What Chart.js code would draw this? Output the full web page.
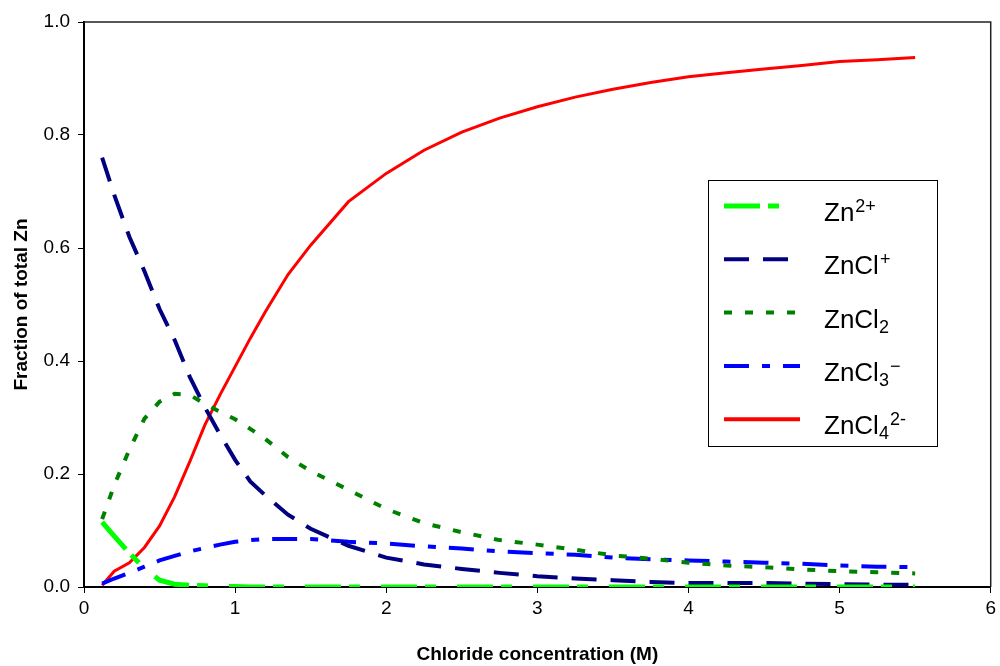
<!DOCTYPE html>
<html>
<head>
<meta charset="utf-8">
<title>Zn chloride speciation</title>
<script src="https://cdn.jsdelivr.net/npm/chart.js@4.4.1/dist/chart.umd.min.js"></script>
<style>
  body { margin: 0; background: #fff; }
  #wrap { width: 1000px; height: 666px; position: relative; }
</style>
</head>
<body>
<div id="wrap"><canvas id="grafico"></canvas></div>
<script>
// Concentração de cloreto (M) - eixo x
const concentracao = [0.12, 0.2, 0.3, 0.4, 0.5, 0.6, 0.7, 0.8, 0.9, 1.0, 1.1, 1.2, 1.35, 1.5, 1.75,
  2.0, 2.25, 2.5, 2.75, 3.0, 3.25, 3.5, 3.75, 4.0, 4.25, 4.5, 4.75, 5.0, 5.25, 5.5];

// Fração de Zn total por espécie
const zn2 = [0.115, 0.09, 0.06, 0.033, 0.012, 0.005, 0.003, 0.002, 0.001, 0.001, 0, 0, 0, 0, 0,
  0, 0, 0, 0, 0, 0, 0, 0, 0, 0, 0, 0, 0, 0, 0];
const zncl = [0.76, 0.694, 0.62, 0.559, 0.492, 0.437, 0.372, 0.318, 0.27, 0.225, 0.187, 0.162, 0.128, 0.103, 0.073,
  0.052, 0.04, 0.032, 0.025, 0.019, 0.015, 0.012, 0.009, 0.007, 0.007, 0.007, 0.006, 0.005, 0.004, 0.004];
const zncl2 = [0.12, 0.18, 0.243, 0.298, 0.328, 0.342, 0.34, 0.324, 0.31, 0.297, 0.28, 0.262, 0.23, 0.205, 0.172,
  0.138, 0.113, 0.097, 0.083, 0.075, 0.066, 0.056, 0.05, 0.043, 0.038, 0.035, 0.031, 0.028, 0.026, 0.024];
const zncl3 = [0.006, 0.015, 0.025, 0.036, 0.047, 0.055, 0.063, 0.069, 0.075, 0.08, 0.083, 0.085, 0.085, 0.085, 0.08,
  0.077, 0.072, 0.068, 0.063, 0.06, 0.057, 0.052, 0.049, 0.047, 0.045, 0.043, 0.041, 0.038, 0.036, 0.035];
const zncl4 = [0.003, 0.028, 0.043, 0.07, 0.108, 0.16, 0.222, 0.287, 0.34, 0.39, 0.44, 0.487, 0.553, 0.605, 0.682,
  0.732, 0.773, 0.805, 0.83, 0.85, 0.867, 0.881, 0.893, 0.903, 0.91, 0.917, 0.923, 0.93, 0.933, 0.937];

const rotulos = ['Zn²⁺', 'ZnCl⁺', 'ZnCl₂', 'ZnCl₃⁻', 'ZnCl₄²⁻'];
const ticksY = [0, 0.2, 0.4, 0.6, 0.8, 1.0];
const ticksX = [0, 1, 2, 3, 4, 5, 6];

// Partes do texto da legenda (normal / sobrescrito / subscrito)
const legendaPartes = [
  [['Zn', ''], ['2+', 'sup']],
  [['ZnCl', ''], ['+', 'sup']],
  [['ZnCl', ''], ['2', 'sub']],
  [['ZnCl', ''], ['3', 'sub'], ['\u2212', 'sup']],
  [['ZnCl', ''], ['4', 'sub'], ['2-', 'sup']],
];

function pontos(ys) {
  return concentracao.map((x, i) => ({ x: x, y: ys[i] }));
}

const familia = 'Arial, "Liberation Sans", sans-serif';
Chart.defaults.font.family = familia;
Chart.defaults.color = '#000';

// Moldura superior e direita da área do gráfico
const moldura = {
  id: 'moldura',
  beforeDatasetsDraw(chart) {
    const { ctx, chartArea: a } = chart;
    ctx.save();
    ctx.strokeStyle = '#222';
    ctx.lineWidth = 1.5;
    ctx.beginPath();
    ctx.moveTo(a.left, a.top);
    ctx.lineTo(a.right, a.top);
    ctx.lineTo(a.right, a.bottom);
    ctx.stroke();
    ctx.restore();
  }
};

// Legenda desenhada à mão, com índices químicos
const legenda = {
  id: 'legenda',
  afterDraw(chart, args, opts) {
    const ctx = chart.ctx;
    ctx.save();
    ctx.fillStyle = '#fff';
    ctx.fillRect(opts.left, opts.top, opts.width, opts.height);
    ctx.strokeStyle = '#000';
    ctx.lineWidth = 1;
    ctx.strokeRect(opts.left + 0.5, opts.top + 0.5, opts.width, opts.height);

    chart.data.datasets.forEach((ds, i) => {
      const y = opts.top + opts.firstRow + i * opts.rowGap;
      ctx.strokeStyle = ds.borderColor;
      ctx.lineWidth = ds.legendWidth;
      ctx.setLineDash(ds.borderDash || []);
      ctx.beginPath();
      ctx.moveTo(opts.left + 16, y);
      ctx.lineTo(opts.left + 92, y);
      ctx.stroke();
      ctx.setLineDash([]);

      let x = opts.left + 116;
      const base = y + 15;
      ctx.fillStyle = '#000';
      ctx.textBaseline = 'alphabetic';
      legendaPartes[i].forEach(([txt, tipo]) => {
        if (tipo === 'sup') {
          ctx.font = '18px ' + familia;
          ctx.fillText(txt, x + 1, base - 9);
        } else if (tipo === 'sub') {
          ctx.font = '18px ' + familia;
          ctx.fillText(txt, x, base + 5);
        } else {
          ctx.font = '26px ' + familia;
          ctx.fillText(txt, x, base);
        }
        x += ctx.measureText(txt).width + (tipo === 'sup' ? 1 : 0);
      });
    });
    ctx.restore();
  }
};

const ctx = document.getElementById('grafico').getContext('2d');
new Chart(ctx, {
  type: 'line',
  data: {
    datasets: [
      { label: rotulos[0], data: pontos(zn2), borderColor: '#00FF00', borderWidth: 5, legendWidth: 5, borderDash: [36, 8, 11, 21] },
      { label: rotulos[1], data: pontos(zncl), borderColor: '#000080', borderWidth: 4, legendWidth: 4, borderDash: [25, 14] },
      { label: rotulos[2], data: pontos(zncl2), borderColor: '#008000', borderWidth: 4, legendWidth: 4, borderDash: [8, 13] },
      { label: rotulos[3], data: pontos(zncl3), borderColor: '#0000FF', borderWidth: 4, legendWidth: 4, borderDash: [25, 13, 8, 13] },
      { label: rotulos[4], data: pontos(zncl4), borderColor: '#FF0000', borderWidth: 3, legendWidth: 4 },
    ],
  },
  options: {
    responsive: true,
    maintainAspectRatio: false,
    animation: false,
    layout: { padding: { top: 22, right: 6, left: 0, bottom: 0 } },
    elements: { point: { radius: 0 }, line: { tension: 0, borderCapStyle: 'butt' } },
    plugins: {
      legend: { display: false },
      tooltip: { enabled: false },
      legenda: { left: 708, top: 180, width: 229, height: 266, firstRow: 26, rowGap: 53.3 },
    },
    scales: {
      x: {
        type: 'linear',
        min: 0,
        max: 6,
        afterFit: (s) => { s.height = 79; },
        afterBuildTicks: (s) => { s.ticks = ticksX.map(v => ({ value: v })); },
        ticks: { font: { size: 19 }, padding: 4, callback: (v) => String(v) },
        grid: { display: true, drawOnChartArea: false, drawTicks: true, tickLength: 6, color: '#000' },
        border: { color: '#000', width: 2 },
        title: { display: true, text: 'Chloride concentration (M)', font: { size: 19, weight: 'bold' }, padding: { top: 0, bottom: 0 } },
      },
      y: {
        min: 0,
        max: 1,
        afterFit: (s) => { s.width = 84; },
        afterBuildTicks: (s) => { s.ticks = ticksY.map(v => ({ value: v })); },
        ticks: { font: { size: 19 }, padding: 8, callback: (v) => Number(v).toFixed(1) },
        grid: { display: true, drawOnChartArea: false, drawTicks: true, tickLength: 6, color: '#000' },
        border: { color: '#000', width: 2 },
        title: { display: true, text: 'Fraction of total Zn', font: { size: 19, weight: 'bold' }, padding: { top: 10, bottom: 0 } },
      },
    },
  },
  plugins: [moldura, legenda],
});
</script>
</body>
</html>
